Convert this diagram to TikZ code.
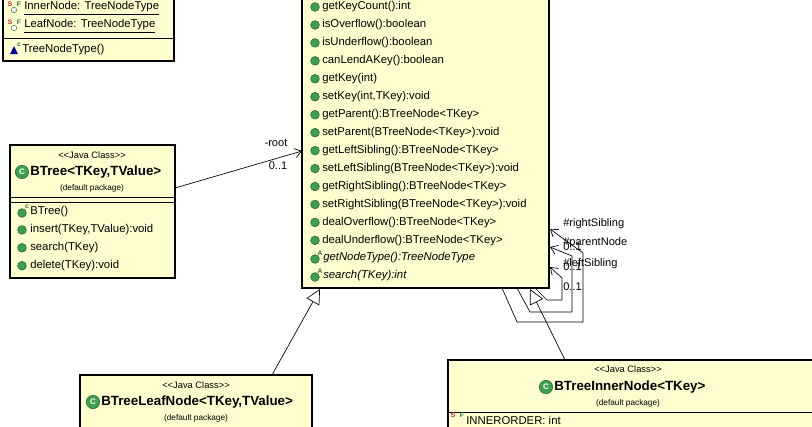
\documentclass[tikz,border=0pt]{standalone}
\usepackage{fontspec}
\setmainfont{Liberation Sans}
\usetikzlibrary{arrows.meta}
\definecolor{boxy}{RGB}{254,254,206}
\definecolor{dotg}{RGB}{60,160,80}
\definecolor{sred}{RGB}{200,30,60}
\begin{document}
\begin{tikzpicture}[x=0.75pt,y=-0.75pt,
  box/.style={draw=black,fill=boxy,line width=0.8pt},
  txt/.style={anchor=west,inner sep=0pt,font=\fontsize{8.5}{10}\selectfont},
  ster/.style={inner sep=0pt,font=\fontsize{7}{8}\selectfont},
  pkg/.style={inner sep=0pt,font=\fontsize{6.2}{7}\selectfont},
  title/.style={inner sep=0pt,font=\fontsize{10}{12}\selectfont\bfseries},
  sup/.style={inner sep=0pt,font=\fontsize{5}{6}\selectfont\bfseries},
  dot/.style={circle,fill=dotg,draw=dotg!60!black,inner sep=0pt,minimum size=6.5pt},
  cls/.style={circle,fill=dotg,draw=dotg!60!black,inner sep=0pt,minimum size=10pt,text=white,font=\fontsize{6}{6}\selectfont\bfseries},
  assoc/.style={-{Straight Barb[length=5pt,width=7pt]},line width=0.5pt},
  gen/.style={-{Triangle[open,length=11pt,width=11pt,fill=white]},line width=0.5pt},
  lbl/.style={inner sep=0pt,font=\fontsize{8.3}{10}\selectfont}]
\useasboundingbox[fill=white] (0,0) rectangle (812,426);
% top-left enum box
\draw[box] (3,-5) rectangle (174,61);
\draw (3,38) -- (174,38);
\node[txt] (e1) at (24,8) {\underline{InnerNode: TreeNodeType}};
\node[txt] (e2) at (24,26) {\underline{LeafNode: TreeNodeType}};
\node[txt] (e3) at (22,50) {TreeNodeType()};
\foreach \y/\n in {8/a,26/b}{
  \node[sup,text=sred] (s\n) at (10,\y-4) {S};
  \node[sup,text=dotg!70!black] (f\n) at (19,\y-4) {F};
  \node[circle,draw=dotg!70!black,fill=white,inner sep=0pt,minimum size=4pt] (o\n) at (14,\y+2) {};
}
\fill[blue!60!black] (10,54) -- (14,46) -- (18,54) -- cycle;
\node[sup,text=dotg!70!black] (c0) at (19,45) {c};
% main box
\draw[box] (302,-5) rectangle (549,288);
\foreach [count=\i] \t in {getKeyCount():int, isOverflow():boolean, isUnderflow():boolean, canLendAKey():boolean, getKey(int), {setKey(int,TKey):void}, getParent():BTreeNode<TKey>, setParent(BTreeNode<TKey>):void, getLeftSibling():BTreeNode<TKey>, setLeftSibling(BTreeNode<TKey>):void, getRightSibling():BTreeNode<TKey>, setRightSibling(BTreeNode<TKey>):void, dealOverflow():BTreeNode<TKey>, dealUnderflow():BTreeNode<TKey>}{
  \node[dot] (md\i) at (315,7+17.95*\i-17.95) {};
  \node[txt] (m\i) at (322,7+17.95*\i-17.95) {\t};
}
\node[dot] (md15) at (315,259) {};
\node[sup,text=dotg!70!black] (ma15) at (320,253) {A};
\node[txt] (m15) at (323,258) {\itshape getNodeType():TreeNodeType};
\node[dot] (md16) at (315,277) {};
\node[sup,text=dotg!70!black] (ma16) at (320,271) {A};
\node[txt] (m16) at (323,276) {\itshape search(TKey):int};
% BTree box
\draw[box] (10,145) rectangle (175,278);
\draw (10,197) -- (175,197); \draw (10,202) -- (175,202);
\node[ster] (b0) at (92,155) {{<}{<}Java Class{>}{>}};
\node[cls] (bc) at (22,172) {C};
\node[title,anchor=west] (b1) at (30,172) {BTree<TKey,TValue>};
\node[pkg] (b2) at (92,188) {(default package)};
\node[dot] (bd1) at (22,213) {};
\node[sup,text=dotg!70!black] (bcx) at (27,207) {c};
\node[txt] (bm1) at (30,212) {BTree()};
\foreach [count=\i] \t in {{insert(TKey,TValue):void},search(TKey),delete(TKey):void}{
  \node[dot] (bd\i x) at (22,212+17.9*\i) {};
  \node[txt] (bm\i x) at (30,212+17.9*\i) {\t};
}
% leaf box
\draw[box] (80,375) rectangle (312,430);
\node[ster] (l0) at (196,385) {{<}{<}Java Class{>}{>}};
\node[cls] (lc) at (93,402) {C};
\node[title,anchor=west] (l1) at (101,402) {BTreeLeafNode<TKey,TValue>};
\node[pkg] (l2) at (196,418) {(default package)};
% inner box
\draw[box] (448,360) rectangle (815,430);
\draw (448,412) -- (815,412);
\node[ster] (i0) at (628,369) {{<}{<}Java Class{>}{>}};
\node[cls] (ic) at (546,387) {C};
\node[title,anchor=west] (i1) at (554,387) {BTreeInnerNode<TKey>};
\node[pkg] (i2) at (628,403) {(default package)};
\node[sup,text=sred] (is) at (453,415) {S};
\node[sup,text=dotg!70!black] (if) at (462,415) {F};
\node[txt] (i3) at (466,420) {INNERORDER: int};
% connectors
\coordinate (rootS) at (175,188);
\coordinate (rootT) at (302,151);
\draw[assoc] (rootS) -- (rootT);
\node[lbl] (r1) at (276,143) {-root};
\node[lbl] (r2) at (278,166) {0..1};
\coordinate (lg1) at (272,375); \coordinate (lg2) at (320,289);
\draw[gen] (lg1) -- (lg2);
\coordinate (ig1) at (565,360); \coordinate (ig2) at (530,289);
\draw[gen] (ig1) -- (ig2);
% self associations
\draw[assoc] (502,288) -- (517,322) -- (583,322) -- (583,253) -- (550,229);
\draw[assoc] (517,288) -- (530,312) -- (572,312) -- (572,256) -- (550,247);
\draw[assoc] (535,288) -- (547,300) -- (562,300) -- (562,278) -- (550,267);
\node[lbl,anchor=west] (a1) at (563,224) {\#rightSibling};
\node[lbl,anchor=west] (a2) at (563,243) {\#parentNode};
\node[lbl,anchor=west] (a3) at (563,264) {\#leftSibling};
\node[lbl,anchor=west] (n1) at (563,247) {0..1};
\node[lbl,anchor=west] (n2) at (563,267) {0..1};
\node[lbl,anchor=west] (n3) at (563,287) {0..1};
\end{tikzpicture}
\end{document}
